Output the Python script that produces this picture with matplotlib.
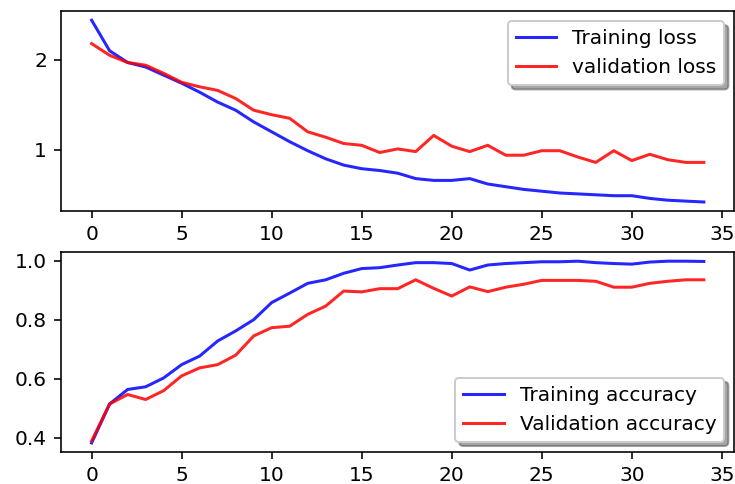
import matplotlib
matplotlib.use("Agg")
import matplotlib.pyplot as plt

epochs = list(range(35))

train_loss = [2.44, 2.10, 1.97, 1.92, 1.83, 1.74, 1.64, 1.53, 1.44, 1.31,
              1.20, 1.09, 0.99, 0.90, 0.83, 0.79, 0.77, 0.74, 0.68, 0.66,
              0.66, 0.68, 0.62, 0.59, 0.56, 0.54, 0.52, 0.51, 0.50, 0.49,
              0.49, 0.46, 0.44, 0.43, 0.42]
val_loss = [2.18, 2.05, 1.97, 1.94, 1.85, 1.75, 1.70, 1.66, 1.57, 1.44,
            1.39, 1.35, 1.20, 1.14, 1.07, 1.05, 0.97, 1.01, 0.98, 1.16,
            1.04, 0.98, 1.05, 0.94, 0.94, 0.99, 0.99, 0.92, 0.86, 0.99,
            0.88, 0.95, 0.89, 0.86, 0.86]

train_acc = [0.383, 0.515, 0.564, 0.573, 0.603, 0.648, 0.677, 0.728, 0.762, 0.800,
             0.858, 0.890, 0.923, 0.935, 0.957, 0.973, 0.976, 0.985, 0.993, 0.993,
             0.990, 0.968, 0.985, 0.990, 0.993, 0.996, 0.996, 0.998, 0.993, 0.990,
             0.988, 0.995, 0.998, 0.998, 0.997]
val_acc = [0.390, 0.515, 0.547, 0.530, 0.560, 0.610, 0.637, 0.648, 0.680, 0.745,
           0.773, 0.778, 0.818, 0.846, 0.897, 0.894, 0.905, 0.905, 0.935, 0.906,
           0.880, 0.911, 0.895, 0.910, 0.920, 0.933, 0.933, 0.933, 0.930, 0.910,
           0.910, 0.923, 0.930, 0.935, 0.935]

fig = plt.figure(figsize=(5.07, 3.338), dpi=145)

ax1 = plt.subplot(211)
ax1.plot(epochs, train_loss, "b", label="Training loss", alpha=0.85)
ax1.plot(epochs, val_loss, "r", label="validation loss", alpha=0.85)
ax1.legend(loc="upper right", shadow=True)

ax2 = plt.subplot(212)
ax2.plot(epochs, train_acc, "b", label="Training accuracy", alpha=0.85)
ax2.plot(epochs, val_acc, "r", label="Validation accuracy", alpha=0.85)
ax2.legend(loc="lower right", shadow=True)

plt.subplots_adjust(left=0.083, right=0.999, top=0.977, bottom=0.066, hspace=0.205)
plt.savefig("out.png")
